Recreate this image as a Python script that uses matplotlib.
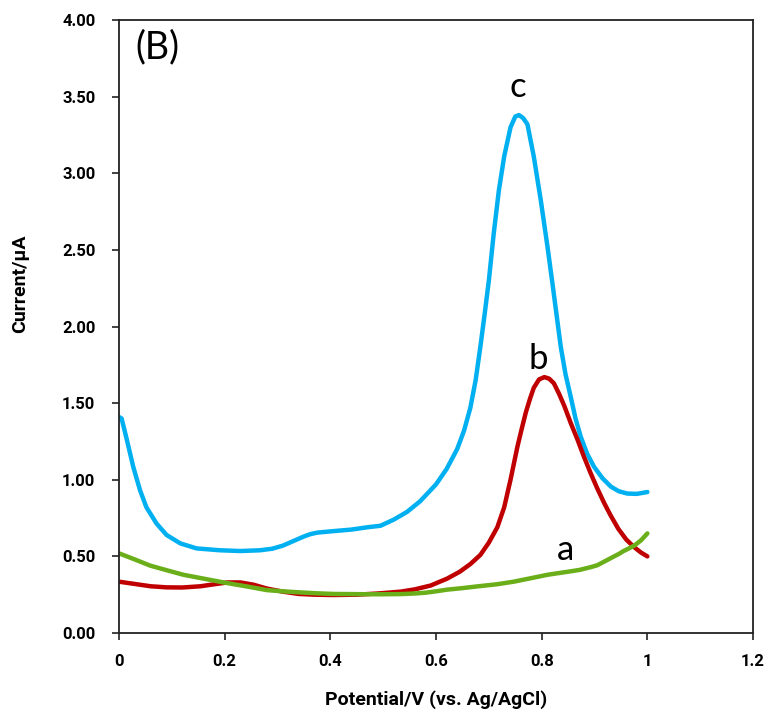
import numpy as np
import matplotlib
matplotlib.use("Agg")
import matplotlib.pyplot as plt

# ------------------------------------------------------------------
# Data (potential in V, current in uA)
# ------------------------------------------------------------------
x_c = [0, 0.005, 0.015, 0.027, 0.040, 0.052, 0.071, 0.09, 0.116, 0.147,
       0.191, 0.23, 0.267, 0.29, 0.31, 0.33, 0.35, 0.362, 0.375, 0.39,
       0.406, 0.44, 0.47, 0.495, 0.52, 0.545, 0.57, 0.60, 0.62, 0.64,
       0.653, 0.665, 0.675, 0.684, 0.692, 0.700, 0.709, 0.719, 0.729, 0.741,
       0.75, 0.757, 0.765, 0.773, 0.785, 0.798, 0.811, 0.820, 0.828, 0.836,
       0.845, 0.855, 0.864, 0.874, 0.886, 0.899, 0.915, 0.931, 0.946, 0.962,
       0.98, 1.0]
y_c = [1.41, 1.40, 1.26, 1.085, 0.93, 0.82, 0.715, 0.64, 0.585, 0.552,
       0.54, 0.535, 0.54, 0.55, 0.57, 0.60, 0.63, 0.645, 0.655, 0.66,
       0.665, 0.675, 0.69, 0.70, 0.74, 0.79, 0.86, 0.97, 1.07, 1.20,
       1.32, 1.47, 1.65, 1.87, 2.08, 2.30, 2.60, 2.89, 3.11, 3.30,
       3.37, 3.38, 3.36, 3.32, 3.11, 2.83, 2.52, 2.29, 2.08, 1.87,
       1.69, 1.54, 1.40, 1.28, 1.17, 1.085, 1.01, 0.955, 0.925, 0.91,
       0.908, 0.92]

x_b = [0, 0.03, 0.06, 0.09, 0.12, 0.154, 0.18, 0.205, 0.23, 0.255,
       0.28, 0.31, 0.34, 0.37, 0.406, 0.45, 0.49, 0.533, 0.56, 0.59,
       0.621, 0.645, 0.665, 0.684, 0.70, 0.716, 0.729, 0.741, 0.754, 0.762,
       0.770, 0.778, 0.785, 0.795, 0.805, 0.814, 0.823, 0.833, 0.843, 0.855,
       0.868, 0.880, 0.893, 0.905, 0.918, 0.93, 0.945, 0.96, 0.975, 0.988,
       1.0]
y_b = [0.335, 0.32, 0.305, 0.298, 0.297, 0.305, 0.318, 0.33, 0.33, 0.315,
       0.29, 0.27, 0.255, 0.25, 0.248, 0.25, 0.258, 0.27, 0.285, 0.31,
       0.355, 0.40, 0.45, 0.51, 0.59, 0.69, 0.82, 1.00, 1.215, 1.33,
       1.44, 1.53, 1.60, 1.655, 1.67, 1.66, 1.63, 1.56, 1.48, 1.37,
       1.26, 1.15, 1.04, 0.945, 0.85, 0.77, 0.68, 0.61, 0.56, 0.525,
       0.50]

x_a = [0, 0.03, 0.059, 0.09, 0.122, 0.16, 0.198, 0.24, 0.28, 0.31,
       0.343, 0.375, 0.406, 0.44, 0.47, 0.50, 0.533, 0.56, 0.58, 0.60,
       0.621, 0.65, 0.68, 0.715, 0.747, 0.78, 0.811, 0.83, 0.85, 0.872,
       0.893, 0.905, 0.915, 0.926, 0.937, 0.946, 0.955, 0.965, 0.975, 0.988,
       1.0]
y_a = [0.52, 0.48, 0.44, 0.41, 0.38, 0.355, 0.33, 0.305, 0.28, 0.272,
       0.265, 0.259, 0.255, 0.254, 0.253, 0.253, 0.254, 0.258, 0.263, 0.272,
       0.283, 0.293, 0.305, 0.318, 0.335, 0.358, 0.38, 0.39, 0.40, 0.412,
       0.43, 0.442, 0.46, 0.48, 0.50, 0.516, 0.535, 0.552, 0.57, 0.605,
       0.65]

x_ticks = [0, 0.2, 0.4, 0.6, 0.8, 1, 1.2]
x_tick_labels = ["0", "0.2", "0.4", "0.6", "0.8", "1", "1.2"]
y_ticks = [0, 0.5, 1.0, 1.5, 2.0, 2.5, 3.0, 3.5, 4.0]

# ------------------------------------------------------------------
# Plot
# ------------------------------------------------------------------
plt.rcParams['font.family'] = ['Roboto', 'DejaVu Sans']

fig = plt.figure(figsize=(7.7, 7.16), dpi=100)
ax = fig.add_axes([0.1545, 0.1159, 0.8235, 0.8561])

style = dict(lw=3.2, solid_joinstyle='round', solid_capstyle='round')
ax.plot(x_c, y_c, color='#00B0F0', **style)
ax.plot(x_b, y_b, color='#C00000', **style)
ax.plot(x_a, y_a, color='#6AAF1A', **style)

ax.set_xlim(0, 1.2)
ax.set_ylim(0, 4.0)
ax.set_xticks(x_ticks)
ax.set_xticklabels(x_tick_labels)
ax.set_yticks(y_ticks)
ax.set_yticklabels([f"{v:.2f}" for v in y_ticks])

for lab in ax.get_xticklabels() + ax.get_yticklabels():
    lab.set_fontweight('bold')
    lab.set_fontsize(12)

ax.tick_params(axis='both', direction='out', length=5, width=1.2, color='#222222')
ax.tick_params(axis='x', pad=10)
ax.tick_params(axis='y', pad=12)
for sp in ax.spines.values():
    sp.set_linewidth(1.3)
    sp.set_color('#222222')

ax.set_xlabel('Potential/V (vs. Ag/AgCl)', fontsize=14, fontweight='bold')
ax.xaxis.set_label_coords(0.5, -0.093)
ax.set_ylabel('Current/μA', fontsize=14, fontweight='bold')
ax.yaxis.set_label_coords(-0.142, 0.569)

# curve labels
lbl = dict(family=['Lato', 'DejaVu Sans'], ha='center', va='center')
ax.text(0.754, 3.56, 'c', fontsize=25, **lbl)
ax.text(0.793, 1.79, 'b', fontsize=25, **lbl)
ax.text(0.845, 0.54, 'a', fontsize=25, **lbl)
ax.text(0.032, 3.82, '(B)', fontsize=27, family=['Lato', 'DejaVu Sans'],
        ha='left', va='center')

fig.savefig('out.png', dpi=100)
